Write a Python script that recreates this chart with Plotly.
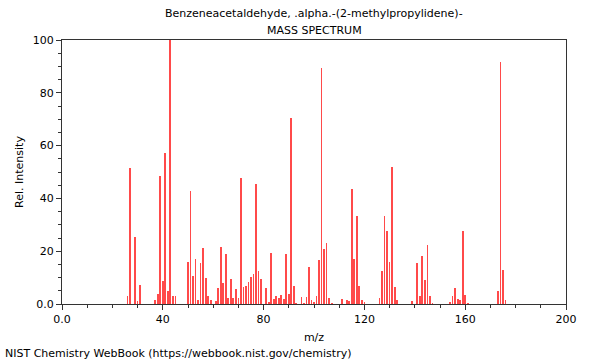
import plotly.graph_objects as go

mz = [26, 27, 29, 30, 31, 37, 38, 39, 40, 41, 42, 43, 44, 45,
      50, 51, 52, 53, 54, 55, 56, 57, 58, 59, 61, 62, 63, 64, 65, 66, 67, 68, 69, 70,
      71, 72, 73, 74, 75, 76, 77, 78, 79, 81, 82, 83, 84, 85, 86, 87, 88, 89, 90,
      91, 92, 93, 95, 96, 97, 98, 99, 100, 101, 102, 103, 104, 105, 106, 107,
      111, 113, 114, 115, 116, 117, 118, 119, 120,
      126, 127, 128, 129, 130, 131, 132, 133, 139, 141, 142, 143, 144, 145, 146, 147,
      154, 155, 156, 157, 158, 159, 160, 161, 173, 174, 175, 176]
intensity = [3.0, 51.6, 25.4, 1.0, 7.2, 1.5, 3.8, 48.6, 8.6, 57.3, 4.9, 100.0, 3.2, 3.2,
             15.9, 42.7, 10.7, 16.9, 1.5, 15.5, 21.2, 9.7, 3.2, 1.4, 1.0, 6.0, 21.6, 7.8, 18.8, 2.4, 9.3, 2.4, 5.8, 2.4,
             47.6, 6.4, 6.9, 8.2, 10.1, 11.5, 45.3, 12.6, 9.6, 5.9, 0.5, 19.3, 1.9, 3.2, 2.1, 3.4, 1.8, 18.9, 3.8,
             70.5, 6.8, 0.3, 2.7, 0.3, 2.7, 14.0, 1.5, 0.5, 3.0, 16.7, 89.5, 20.8, 23.0, 2.1, 0.3,
             1.9, 1.6, 1.0, 43.7, 17.2, 33.3, 6.7, 1.5, 0.5,
             2.4, 12.5, 33.2, 27.8, 15.9, 51.8, 6.4, 1.5, 1.0, 15.4, 3.2, 18.2, 9.1, 22.3, 3.2, 0.3,
             0.4, 3.2, 5.9, 1.9, 1.4, 27.7, 3.4, 0.3, 5.1, 91.5, 13.0, 1.4]

x_tickvals = [0, 40, 80, 120, 160, 200]
x_ticktext = ["0.0", "40", "80", "120", "160", "200"]
y_tickvals = [0, 20, 40, 60, 80, 100]
y_ticktext = ["0.0", "20", "40", "60", "80", "100"]

title_line1 = "Benzeneacetaldehyde, .alpha.-(2-methylpropylidene)-"
title_line2 = "MASS SPECTRUM"
footer = "NIST Chemistry WebBook (https://webbook.nist.gov/chemistry)"

FONT = "DejaVu Sans"
AXC = "#333333"

fig = go.Figure(go.Bar(
    x=mz, y=intensity, width=0.32,
    marker=dict(color="#ff4a4a", line=dict(width=0)),
))

fig.update_layout(
    width=600, height=360,
    margin=dict(l=62, r=34, t=40, b=56),
    paper_bgcolor="white", plot_bgcolor="white",
    font=dict(family=FONT, size=11, color="#000000"),
    showlegend=False,
    bargap=0,
)

fig.update_xaxes(
    range=[0, 200], tickvals=x_tickvals, ticktext=x_ticktext,
    ticks="outside", ticklen=5, tickcolor=AXC, tickwidth=1,
    minor=dict(dtick=10, tick0=0, ticks="outside", ticklen=3, tickcolor=AXC, showgrid=False),
    showline=True, linecolor=AXC, linewidth=1, mirror=True,
    showgrid=False, zeroline=False,
    title=dict(text="m/z", font=dict(size=11), standoff=8),
    tickfont=dict(size=11),
)
fig.update_yaxes(
    range=[0, 100], tickvals=y_tickvals, ticktext=y_ticktext,
    ticks="outside", ticklen=5, tickcolor=AXC, tickwidth=1,
    minor=dict(dtick=5, tick0=0, ticks="outside", ticklen=3, tickcolor=AXC, showgrid=False),
    showline=True, linecolor=AXC, linewidth=1, mirror=True,
    showgrid=False, zeroline=False,
    title=dict(text="Rel. Intensity", font=dict(size=11), standoff=6),
    tickfont=dict(size=11),
)

fig.add_annotation(text=title_line1, xref="paper", yref="paper", x=0.5, y=1,
                   yshift=27, showarrow=False, font=dict(size=11), xanchor="center", yanchor="middle")
fig.add_annotation(text=title_line2, xref="paper", yref="paper", x=0.5, y=1,
                   yshift=10, showarrow=False, font=dict(size=11), xanchor="center", yanchor="middle")
fig.add_annotation(text=footer, xref="paper", yref="paper", x=-62/504, y=0,
                   yshift=-49, xshift=3, showarrow=False, font=dict(size=11),
                   xanchor="left", yanchor="middle")

fig.write_html("out.html")
